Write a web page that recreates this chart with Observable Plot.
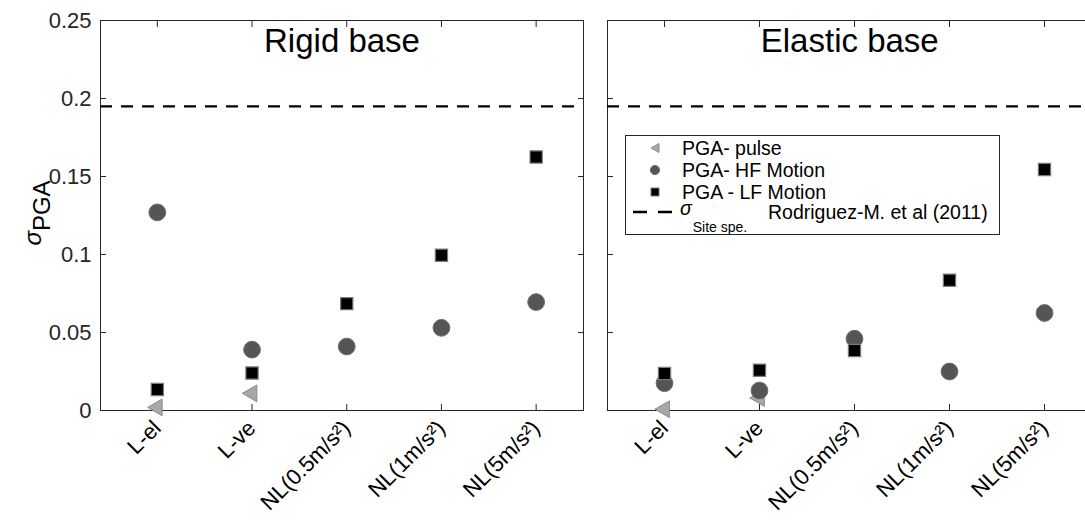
<!DOCTYPE html>
<html>
<head>
<meta charset="utf-8">
<script src="https://cdn.jsdelivr.net/npm/d3@7"></script>
<script src="https://cdn.jsdelivr.net/npm/@observablehq/plot@0.6"></script>
<style>
  html, body { margin: 0; padding: 0; background: #fff; overflow: hidden; width: 1085px; height: 524px; }
  body { position: relative; font-family: "Liberation Sans", Arial, Helvetica, sans-serif; color: #000; }
  .panel { position: absolute; top: 0; overflow: visible; }
  .panel svg { max-width: none !important; }
  #ylabel { position: absolute; width: 100px; height: 30px; line-height: 30px; text-align: center;
            font-size: 24px; transform: rotate(-90deg); white-space: nowrap; }
  #legend { position: absolute; left: 625px; top: 135px; width: 375px; height: 100px; box-sizing: border-box;
            border: 1px solid #262626; background: #fff; font-size: 19.5px; }
  .row { position: absolute; height: 14px; line-height: 14px; white-space: nowrap; }
  .sym { position: absolute; line-height: 0; }
</style>
</head>
<body>
<div id="left" class="panel" style="left:0px; width:590px;"></div>
<div id="right" class="panel" style="left:590px; width:510px;"></div>
<div id="ylabel"><i>σ</i><span style="position:relative; top:9px;">PGA</span></div>
<div id="legend"></div>
<script>
// ---- data ----
const categories = ["L-el", "L-ve", "NL(0.5m/s²)", "NL(1m/s²)", "NL(5m/s²)"];
const yTicks = [0, 0.05, 0.1, 0.15, 0.2, 0.25];
const sigmaSite = 0.195;
const rigidPulse = [0.002, 0.011];
const rigidHF = [0.127, 0.039, 0.041, 0.053, 0.0695];
const rigidLF = [0.0135, 0.024, 0.0685, 0.0995, 0.1625];
const elasticPulse = [0.0008, 0.008];
const elasticHF = [0.0175, 0.0128, 0.046, 0.025, 0.0625];
const elasticLF = [0.0237, 0.0258, 0.0385, 0.0835, 0.1545];
const panelTitles = ["Rigid base", "Elastic base"];
const legendLabels = ["PGA- pulse", "PGA- HF Motion", "PGA - LF Motion", "Rodriguez-M. et al (2011)"];

const FONT = "Liberation Sans, Arial, Helvetica, sans-serif";
const toRows = arr => arr.map((v, i) => ({i: i + 1, v}));
const fmtY = d => String(+d.toFixed(2));

function panel({title, pulse, hf, lf, width, marginLeft, marginRight, showYLabels}) {
  const ticksX = categories.map((_, i) => i + 1);
  return Plot.plot({
    width, height: 524,
    marginTop: 20, marginBottom: 114, marginLeft, marginRight,
    x: {domain: [0.4, 5.5]},
    y: {domain: [0, 0.25]},
    style: {fontFamily: FONT, fontSize: "22px", color: "#262626", background: "transparent", overflow: "visible", maxWidth: "none"},
    marks: [
      Plot.frame({stroke: "#262626", strokeWidth: 1}),
      Plot.axisY({ticks: yTicks, tickSize: -6, tickPadding: 15, tickFormat: showYLabels ? fmtY : () => "",
                  label: null, fontSize: 22, fill: "#262626"}),
      Plot.axisY({anchor: "right", ticks: yTicks, tickSize: -6, tickFormat: () => "", label: null}),
      Plot.axisX({ticks: ticksX, tickSize: -6, tickPadding: 20, tickRotate: -45,
                  tickFormat: i => categories[i - 1], label: null, fontSize: 22, fill: "#000"}),
      Plot.axisX({anchor: "top", ticks: ticksX, tickSize: -6, tickFormat: () => "", label: null}),
      Plot.ruleY([sigmaSite], {stroke: "#000", strokeWidth: 2.3, strokeDasharray: "12,9"}),
      Plot.text([title], {text: d => d, frameAnchor: "top", lineAnchor: "middle", dy: 21,
                          fontSize: 33, fill: "#000", fontFamily: FONT}),
      Plot.dot(toRows(pulse), {x: "i", y: "v", symbol: "triangle", rotate: -90, r: 6.2,
                               fill: "#a8a8a8", stroke: "#8a8a8a", strokeWidth: 1}),
      Plot.dot(toRows(hf), {x: "i", y: "v", symbol: "circle", r: 8.4,
                            fill: "#555555", stroke: "#6e6e6e", strokeWidth: 1}),
      Plot.dot(toRows(lf), {x: "i", y: "v", symbol: "square", r: 6.9,
                            fill: "#000000", stroke: "#7a7a7a", strokeWidth: 1.2})
    ]
  });
}

document.getElementById("left").append(panel({
  title: panelTitles[0], pulse: rigidPulse, hf: rigidHF, lf: rigidLF,
  width: 590, marginLeft: 100, marginRight: 7, showYLabels: true
}));
document.getElementById("right").append(panel({
  title: panelTitles[1], pulse: elasticPulse, hf: elasticHF, lf: elasticLF,
  width: 510, marginLeft: 17, marginRight: 8.5, showYLabels: false
}));

// y label
const yl = document.getElementById("ylabel");
yl.style.left = (33 - 50) + "px";
yl.style.top = (213 - 15) + "px";

// legend
const lg = document.getElementById("legend");
const L0 = 625, T0 = 135;
const rowsY = [148, 170, 192, 208];
const symbols = [
  `<svg width="14" height="14"><path d="M3,7 L11,2.5 L11,11.5 Z" fill="#a8a8a8" stroke="#8a8a8a"/></svg>`,
  `<svg width="14" height="14"><circle cx="7" cy="7" r="4.6" fill="#555" stroke="#6e6e6e"/></svg>`,
  `<svg width="14" height="14"><rect x="3" y="3" width="8" height="8" fill="#000" stroke="#7a7a7a"/></svg>`
];
for (let k = 0; k < 3; k++) {
  const s = document.createElement("div");
  s.className = "sym";
  s.style.left = (655 - 7 - L0 - 1) + "px";
  s.style.top = (rowsY[k] - 7 - T0 - 1) + "px";
  s.innerHTML = symbols[k];
  lg.append(s);
  const r = document.createElement("div");
  r.className = "row";
  r.style.left = (682 - L0 - 1) + "px";
  r.style.top = (rowsY[k] - 7 - T0 - 1) + "px";
  r.textContent = legendLabels[k];
  lg.append(r);
}
const dash = document.createElement("div");
dash.className = "sym";
dash.style.left = (631 - L0 - 1) + "px";
dash.style.top = (212 - 4 - T0 - 1) + "px";
dash.innerHTML = `<svg width="50" height="8"><line x1="2" y1="4" x2="48" y2="4" stroke="#000" stroke-width="2.4" stroke-dasharray="14,11"/></svg>`;
lg.append(dash);
const sig = document.createElement("div");
sig.className = "row";
sig.style.left = (680 - L0 - 1) + "px";
sig.style.top = (rowsY[3] - 5 - T0 - 1) + "px";
sig.style.height = "10px";
sig.style.lineHeight = "10px";
sig.innerHTML = `<i>σ</i><span style="font-size:14px; position:relative; top:17px; left:1px;">Site spe.</span>`;
lg.append(sig);
const ref = document.createElement("div");
ref.className = "row";
ref.style.left = (768 - L0 - 1) + "px";
ref.style.top = (212 - 7 - T0 - 1) + "px";
ref.textContent = legendLabels[3];
lg.append(ref);
</script>
</body>
</html>
